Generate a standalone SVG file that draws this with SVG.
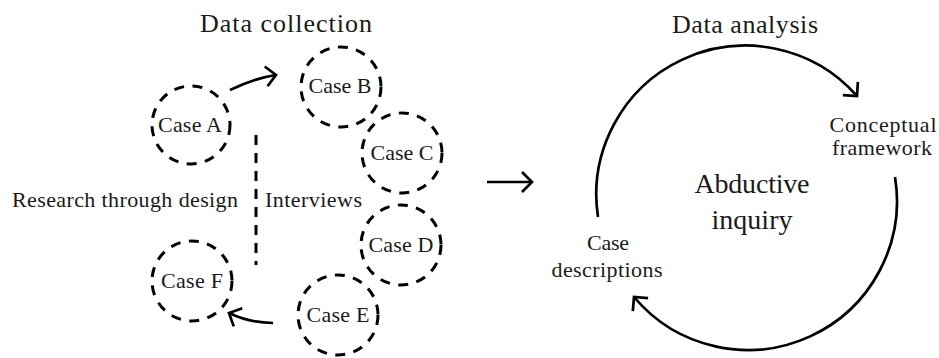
<svg xmlns="http://www.w3.org/2000/svg" width="939" height="358" viewBox="0 0 939 358">
<defs>
<style>
text{font-family:"Liberation Serif","Times New Roman",serif;fill:#1a1a1a;}
.case{fill:none;stroke:#000;stroke-width:3;stroke-dasharray:10 8.5;}
.lbl{font-size:22px;text-anchor:middle;}
.title{font-size:26px;text-anchor:middle;}
.side{font-size:22px;}
.small{font-size:22px;text-anchor:middle;}
.big{font-size:28px;text-anchor:middle;}
.conn{fill:none;stroke:#000;stroke-width:2.7;}
</style>
<marker id="chev" markerUnits="userSpaceOnUse" orient="auto" refX="0" refY="0" markerWidth="30" markerHeight="30" viewBox="-15 -15 30 30" overflow="visible">
<path d="M -10 -10 L 0 0 L -10 10" fill="none" stroke="#000" stroke-width="2.7"/>
</marker>
</defs>
<text class="title" x="286" y="32" textLength="172">Data collection</text>
<text class="title" x="745" y="33" textLength="146">Data analysis</text>
<g id="caseA"><circle class="case" cx="191" cy="125" r="39"/><text class="lbl" x="190" y="132" textLength="64">Case A</text></g>
<g id="caseB"><circle class="case" cx="341" cy="87" r="40"/><text class="lbl" x="340" y="93" textLength="63">Case B</text></g>
<g id="caseC"><circle class="case" cx="402" cy="153" r="40"/><text class="lbl" x="402" y="160" textLength="63">Case C</text></g>
<g id="caseD"><circle class="case" cx="401" cy="245" r="40"/><text class="lbl" x="401" y="252" textLength="65">Case D</text></g>
<g id="caseE"><circle class="case" cx="338" cy="315" r="40"/><text class="lbl" x="338" y="322" textLength="63">Case E</text></g>
<g id="caseF"><circle class="case" cx="192" cy="281" r="40"/><text class="lbl" x="192" y="288" textLength="62">Case F</text></g>
<g id="methods">
<text class="side" x="12" y="207" textLength="226">Research through design</text>
<text class="side" x="265" y="207" textLength="97">Interviews</text>
</g>
<g id="analysis">
<text class="small" x="883" y="132" textLength="107">Conceptual</text>
<text class="small" x="882" y="155" textLength="100">framework</text>
<text class="big" x="752" y="193" textLength="115">Abductive</text>
<text class="big" x="752" y="229" textLength="81">inquiry</text>
<text class="small" x="608" y="250" textLength="42">Case</text>
<text class="small" x="607" y="277" textLength="111">descriptions</text>
</g>
<g id="connectors">
<line x1="256" y1="135" x2="256" y2="265" stroke="#000" stroke-width="3" stroke-dasharray="10 8"/>
<path class="conn" d="M 230 90 Q 255 78 276 75" marker-end="url(#chev)"/>
<path class="conn" d="M 273 323 Q 250 323 229 313" marker-end="url(#chev)"/>
<path class="conn" d="M 487 182 L 532 182" marker-end="url(#chev)"/>
<path class="conn" d="M 598 217 A 149 149 0 0 1 857 96" marker-end="url(#chev)"/>
<path class="conn" d="M 895 177 A 149 149 0 0 1 634 297" marker-end="url(#chev)"/>
</g>
</svg>
